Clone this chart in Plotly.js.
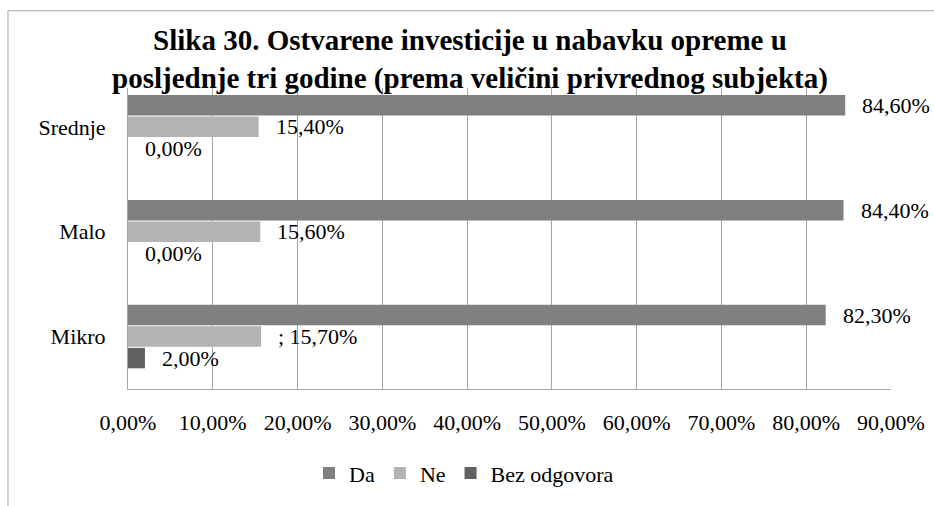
<!DOCTYPE html>
<html>
<head>
<meta charset="utf-8">
<script src="https://cdn.plot.ly/plotly-3.0.1.min.js"></script>
<style>
  html, body { margin: 0; padding: 0; background: #ffffff; }
  #chart { width: 934px; height: 506px; }
</style>
</head>
<body>
<div id="chart"></div>
<script>
// ---- Data ----
const categories = ['Mikro', 'Malo', 'Srednje'];
const da = [82.3, 84.4, 84.6];
const ne = [15.7, 15.6, 15.4];
const bez = [2.0, 0.0, 0.0];
const seriesNames = ['Da', 'Ne', 'Bez odgovora'];
const neLabelPrefix = ['; ', '', ''];
const xTickVals = [0, 10, 20, 30, 40, 50, 60, 70, 80, 90];
const titleLines = [
  'Slika 30. Ostvarene investicije u nabavku opreme u',
  'posljednje tri godine (prema veličini privrednog subjekta)'
];

// ---- Styling ----
const FONT = '"Liberation Serif", "Times New Roman", serif';
const colors = { da: '#808080', ne: '#b3b3b3', bez: '#616161' };
const GRID = '#a6a6a6';
const bargap = 0.384;
const nSeries = 3;
const slot = (1 - bargap) / nSeries;

const yIdx = categories.map((c, i) => i);

// Trace order bottom -> top within each group: Bez, Ne, Da
const series = [
  { name: seriesNames[2], values: bez, color: colors.bez, prefix: null, rank: 3 },
  { name: seriesNames[1], values: ne, color: colors.ne, prefix: neLabelPrefix, rank: 2 },
  { name: seriesNames[0], values: da, color: colors.da, prefix: null, rank: 1 }
];

const fmt = v => v.toFixed(2).replace('.', ',') + '%';

const traces = series.map(s => ({
  type: 'bar',
  orientation: 'h',
  name: s.name,
  x: s.values,
  y: yIdx,
  marker: { color: s.color, line: { width: 0 } },
  legendrank: s.rank,
  hoverinfo: 'skip'
}));

const annotations = [];
series.forEach((s, k) => {
  const off = -(1 - bargap) / 2 + (k + 0.5) * slot;
  s.values.forEach((v, i) => {
    annotations.push({
      x: v, y: i + off, xref: 'x', yref: 'y',
      text: (s.prefix ? s.prefix[i] : '') + fmt(v),
      showarrow: false, xanchor: 'left', yanchor: 'middle', xshift: 15,
      font: { family: FONT, size: 22, color: '#000000' }
    });
  });
});

const layout = {
  width: 934,
  height: 506,
  paper_bgcolor: '#ffffff',
  plot_bgcolor: '#ffffff',
  separators: ',.',
  margin: { l: 128, r: 43, t: 88, b: 114, pad: 0 },
  barmode: 'group',
  bargap: bargap,
  bargroupgap: 0.05,
  font: { family: FONT, size: 22, color: '#000000' },
  title: {
    text: titleLines.join('<br>'),
    font: { family: FONT, size: 29, color: '#000000', weight: 'bold' },
    x: 470 / 934, xanchor: 'center', xref: 'container',
    y: 1 - 50 / 506, yanchor: 'middle', yref: 'container'
  },
  xaxis: {
    range: [0, 90],
    tickvals: xTickVals,
    ticktext: xTickVals.map(fmt),
    showgrid: true,
    gridcolor: GRID,
    gridwidth: 1,
    zeroline: false,
    showline: true,
    linecolor: GRID,
    linewidth: 1,
    mirror: false,
    ticks: '',
    ticklabelstandoff: 14,
    tickfont: { family: FONT, size: 22, color: '#000000' },
    fixedrange: true
  },
  yaxis: {
    range: [-0.5, 2.37],
    tickvals: yIdx,
    ticktext: categories,
    showgrid: false,
    zeroline: false,
    showline: true,
    linecolor: GRID,
    linewidth: 1,
    ticks: '',
    ticklabelstandoff: 17,
    tickfont: { family: FONT, size: 22, color: '#000000' },
    fixedrange: true
  },
  showlegend: true,
  legend: {
    orientation: 'h',
    x: (464 - 128) / 763, xanchor: 'center',
    y: -0.2796, yanchor: 'middle',
    font: { family: FONT, size: 22, color: '#000000' },
    bgcolor: 'rgba(0,0,0,0)'
  },
  annotations: annotations,
  shapes: [
    {
      type: 'path', xref: 'paper', yref: 'paper',
      path: 'M -0.1573 -0.45 L -0.1573 1.2566 L 1.1 1.2566',
      line: { color: '#a6a6a6', width: 1 },
      layer: 'below'
    }
  ]
};

Plotly.newPlot('chart', traces, layout, { displayModeBar: false, staticPlot: true });
</script>
</body>
</html>
